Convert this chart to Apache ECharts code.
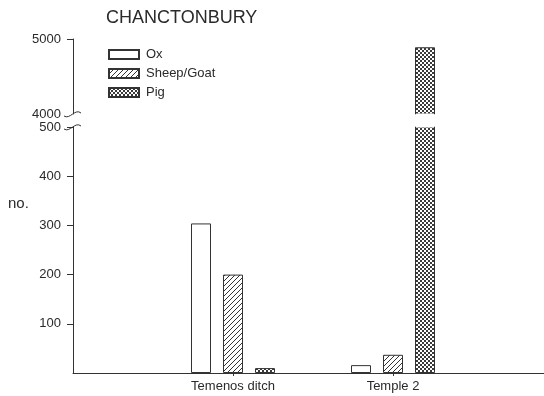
<!DOCTYPE html>
<html>
<head>
<meta charset="utf-8">
<script src="https://cdn.jsdelivr.net/npm/echarts@6/dist/echarts.min.js"></script>
<style>html,body{margin:0;padding:0;background:#fff}#c{width:544px;height:396px}</style>
</head>
<body>
<div id="c"></div>
<script>
// Data
var categories = ['', 'Temenos ditch', 'Temple 2', ''];
var seriesNames = ['Ox', 'Sheep/Goat', 'Pig'];
var oxValues = [null, 304, 16, null];
var sheepValues = [null, 200, 37, null];
var pigValues = [null, 10, 4890, null];
var lowerTicks = [100, 200, 300, 400, 500];
var upperTicks = [4000, 5000];

var FONT = "'Liberation Sans', Arial, sans-serif";
var INK = '#2a2a2a';

function makeHatch() {
  var s = 5, c = document.createElement('canvas');
  c.width = s; c.height = s;
  var g = c.getContext('2d');
  g.fillStyle = '#fff'; g.fillRect(0, 0, s, s);
  g.strokeStyle = '#333'; g.lineWidth = 1;
  g.beginPath();
  g.moveTo(0, s); g.lineTo(s, 0);
  g.moveTo(-1, 1); g.lineTo(1, -1);
  g.moveTo(s - 1, s + 1); g.lineTo(s + 1, s - 1);
  g.stroke();
  return c;
}
function makeChecker() {
  var c = document.createElement('canvas');
  c.width = 4; c.height = 4;
  var g = c.getContext('2d');
  g.fillStyle = '#fff'; g.fillRect(0, 0, 4, 4);
  g.fillStyle = '#3a3a3a';
  g.fillRect(0, 0, 2, 2); g.fillRect(2, 2, 2, 2);
  return c;
}
var fills = [
  '#ffffff',
  { image: makeHatch(), repeat: 'repeat' },
  { image: makeChecker(), repeat: 'repeat' }
];
var valuesBySeries = [oxValues, sheepValues, pigValues];

var chart = echarts.init(document.getElementById('c'), null, { renderer: 'canvas' });

var series = [];
[0, 1].forEach(function (gi) {
  seriesNames.forEach(function (name, si) {
    series.push({
      type: 'bar',
      name: name,
      xAxisIndex: gi,
      yAxisIndex: gi,
      data: valuesBySeries[si],
      barWidth: 20,
      barGap: '60%',
      clip: true,
      silent: true,
      itemStyle: { color: fills[si], borderColor: '#333', borderWidth: 1 }
    });
  });
});

var axisLine = { show: true, lineStyle: { color: '#333', width: 1 } };
function plain(v) { return String(v); }

chart.setOption({
  animation: false,
  backgroundColor: '#fff',
  title: {
    text: 'CHANCTONBURY', left: 106, top: 9, padding: 0,
    textStyle: { fontFamily: FONT, fontSize: 18, fontWeight: 'normal', color: INK }
  },
  legend: {
    data: seriesNames, orient: 'vertical', left: 108, top: 48, padding: 0,
    itemWidth: 30, itemHeight: 9, itemGap: 6, icon: 'rect',
    selectedMode: false,
    textStyle: { fontFamily: FONT, fontSize: 13, color: INK, padding: [0, 0, 0, 2] }
  },
  grid: [
    { left: 73, top: 127, width: 480, height: 246, outerBoundsMode: 'none', containLabel: false },
    { left: 73, top: 39, width: 480, height: 75, outerBoundsMode: 'none', containLabel: false }
  ],
  xAxis: [
    {
      type: 'category', gridIndex: 0, data: categories, boundaryGap: false,
      axisLine: axisLine,
      axisTick: { show: true, length: 3, lineStyle: { color: '#333' },
        interval: function (i, v) { return v !== ''; } },
      axisLabel: { margin: 7, fontFamily: FONT, fontSize: 13, color: INK,
        interval: 0 },
      splitLine: { show: false }
    },
    {
      type: 'category', gridIndex: 1, data: categories, boundaryGap: false,
      show: false
    }
  ],
  yAxis: [
    {
      type: 'value', gridIndex: 0, min: 0, max: 500, interval: 100,
      axisLine: axisLine,
      axisTick: { show: true, length: 6, customValues: lowerTicks, lineStyle: { color: '#333' } },
      axisLabel: { margin: 12, fontFamily: FONT, fontSize: 13, color: INK,
        customValues: lowerTicks, formatter: plain },
      splitLine: { show: false }
    },
    {
      type: 'value', gridIndex: 1, min: 4000, max: 5000, interval: 1000,
      axisLine: axisLine,
      axisTick: { show: true, length: 6, customValues: [5000], lineStyle: { color: '#333' } },
      axisLabel: { margin: 12, fontFamily: FONT, fontSize: 13, color: INK,
        customValues: upperTicks, formatter: plain },
      splitLine: { show: false }
    }
  ],
  series: series
});

// axis-break decorations, open bar ends at the break, and the "no." axis title
var ax = chart.convertToPixel({ xAxisIndex: 0 }, 0);
var yTop = chart.convertToPixel({ yAxisIndex: 1 }, 4000);
var yBot = chart.convertToPixel({ yAxisIndex: 0 }, 500);
var pigX = chart.convertToPixel({ xAxisIndex: 0 }, 2) + 32;
function tilde(x, y) {
  return {
    type: 'bezierCurve',
    shape: { x1: x - 9, y1: y + 2, cpx1: x - 3, cpy1: y + 6, cpx2: x + 2, cpy2: y - 6, x2: x + 8, y2: y - 1 },
    style: { fill: null, stroke: '#333', lineWidth: 1 },
    silent: true
  };
}
chart.setOption({
  graphic: [
    tilde(ax, yTop),
    tilde(ax, yBot),
    {
      type: 'rect', silent: true, z: 100,
      shape: { x: pigX - 9, y: yTop - 0.5, width: 18, height: yBot - yTop + 1 },
      style: { fill: '#fff' }
    },
    {
      type: 'text', left: 8, top: 196, silent: true,
      style: { text: 'no.', font: '15px ' + FONT, fill: INK }
    }
  ]
});
</script>
</body>
</html>
